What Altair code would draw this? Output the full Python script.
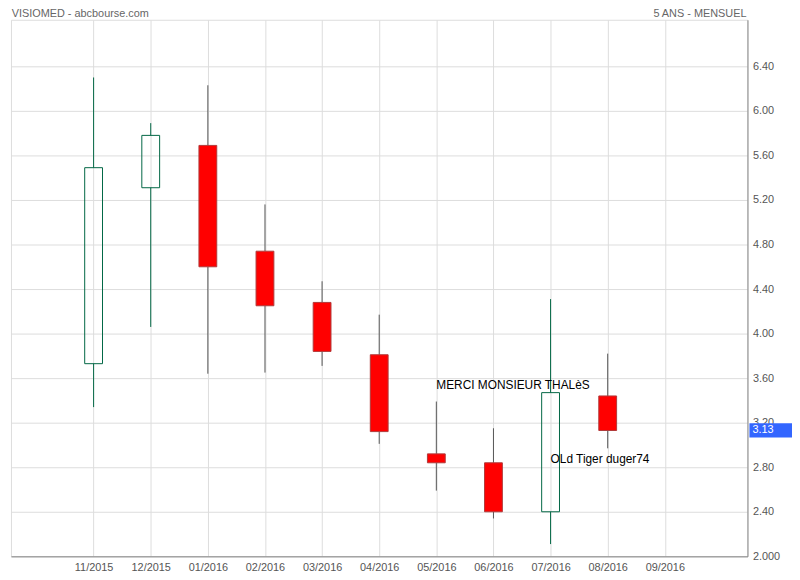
import json
import altair as alt
import pandas as pd

months = ['11/2015', '12/2015', '01/2016', '02/2016', '03/2016', '04/2016',
          '05/2016', '06/2016', '07/2016', '08/2016', '09/2016']
opens = [3.73, 5.31, 5.69, 4.74, 4.28, 3.81, 2.92, 2.84, 2.40, 3.44]
closes = [5.49, 5.78, 4.60, 4.25, 3.84, 3.12, 2.84, 2.40, 3.47, 3.13]
highs = [6.30, 5.89, 6.23, 5.16, 4.47, 4.17, 3.39, 3.15, 4.31, 3.82]
lows = [3.34, 4.06, 3.64, 3.65, 3.71, 3.01, 2.59, 2.34, 2.11, 2.97]
y_ticks = [2.0, 2.4, 2.8, 3.2, 3.6, 4.0, 4.4, 4.8, 5.2, 5.6, 6.0, 6.4]
last_price = 3.13
title_left = "VISIOMED - abcbourse.com"
title_right = "5 ANS - MENSUEL"
notes = ["MERCI MONSIEUR THALèS", "OLd Tiger duger74"]
note_month = [6, 8]
note_value = [3.54, 2.87]

FONT = "Arial, Liberation Sans, sans-serif"
GREEN = "#006644"
RED = "#ff0000"

df = pd.DataFrame({
    "i": list(range(len(opens))),
    "open": opens, "close": closes, "high": highs, "low": lows,
})
df["dir"] = ["up" if c >= o else "down" for o, c in zip(opens, closes)]
df["top"] = df[["open", "close"]].max(axis=1)
df["bot"] = df[["open", "close"]].min(axis=1)

xscale = alt.Scale(domain=[-1.36, 11.36], nice=False, zero=False)
yscale = alt.Scale(domain=[2.0, 6.818], nice=False, zero=False)

label_arr = json.dumps(months)
xaxis = alt.Axis(values=list(range(len(months))), title=None, grid=True,
                 labelExpr=f"{label_arr}[datum.value]", labelPadding=5,
                 labelFontSize=11, labelFont=FONT, labelColor="#555555",
                 ticks=False, domain=True, orient="bottom")
yaxis = alt.Axis(values=y_ticks, title=None, grid=True, orient="right",
                 labelExpr="datum.value == 2 ? '2.000' : format(datum.value, '.2f')",
                 labelFontSize=11, labelFont=FONT, labelColor="#555555",
                 labelPadding=5, ticks=False, domain=True)

base = alt.Chart(df)
wick_color = alt.Color("dir:N", scale=alt.Scale(domain=["up", "down"], range=[GREEN, "#555555"]), legend=None)

upper = base.mark_rule(strokeWidth=1).encode(
    x=alt.X("i:Q", scale=xscale, axis=xaxis),
    y=alt.Y("high:Q", scale=yscale, axis=yaxis),
    y2="top:Q",
    color=wick_color,
)
lower = base.mark_rule(strokeWidth=1).encode(
    x=alt.X("i:Q", scale=xscale),
    y=alt.Y("bot:Q", scale=yscale),
    y2="low:Q",
    color=wick_color,
)
body = base.mark_bar(size=18, strokeWidth=1).encode(
    x=alt.X("i:Q", scale=xscale),
    y=alt.Y("open:Q", scale=yscale),
    y2="close:Q",
    fill=alt.Fill("dir:N", scale=alt.Scale(domain=["up", "down"], range=["transparent", RED]), legend=None),
    stroke=alt.Stroke("dir:N", scale=alt.Scale(domain=["up", "down"], range=[GREEN, "#b03a3a"]), legend=None),
)

note_df = pd.DataFrame({"text": notes, "i": note_month, "v": note_value})
note1 = alt.Chart(note_df.iloc[[0]]).mark_text(
    align="left", baseline="middle", font=FONT, fontSize=12, color="#000000"
).encode(x=alt.X("i:Q", scale=xscale), y=alt.Y("v:Q", scale=yscale), text="text:N")
note2 = alt.Chart(note_df.iloc[[1]]).mark_text(
    align="left", baseline="middle", font=FONT, fontSize=12, color="#000000"
).encode(x=alt.X("i:Q", scale=xscale), y=alt.Y("v:Q", scale=yscale), text="text:N")

price_df = pd.DataFrame({"p": [last_price], "t": [f"{last_price:.2f}"],
                         "p1": [last_price + 0.064], "p0": [last_price - 0.064]})
price_box = alt.Chart(price_df).mark_rect(color="#3366ff").encode(
    x=alt.value(746), x2=alt.value(789),
    y=alt.Y("p1:Q", scale=yscale), y2="p0:Q",
)
price_txt = alt.Chart(price_df).mark_text(
    align="left", baseline="middle", font=FONT, fontSize=11, color="#ffffff"
).encode(x=alt.value(749), y=alt.Y("p:Q", scale=yscale), text="t:N")

hdr_df = pd.DataFrame({"a": [title_left], "b": [title_right]})
hdr_l = alt.Chart(hdr_df).mark_text(
    align="left", baseline="middle", font=FONT, fontSize=11, color="#666666"
).encode(x=alt.value(0.7), y=alt.value(-5.5), text="a:N")
hdr_r = alt.Chart(hdr_df).mark_text(
    align="right", baseline="middle", font=FONT, fontSize=11, color="#666666"
).encode(x=alt.value(743), y=alt.value(-5.5), text="b:N")

chart = alt.layer(upper, lower, body, note1, note2, price_box, price_txt, hdr_l, hdr_r).properties(
    width=744, height=542,
    autosize=alt.AutoSizeParams(type="none"),
    padding={"left": 3, "top": 9, "right": 45, "bottom": 21},
).configure_view(
    stroke="#dddddd", strokeWidth=1
).configure_axis(
    gridColor="#dddddd", gridWidth=1, domainColor="#dddddd",
    labelColor="#555555", labelFont=FONT, labelFontSize=11,
).configure(background="white")

chart.save("out.html", embed_options={"renderer": "svg", "actions": False})
